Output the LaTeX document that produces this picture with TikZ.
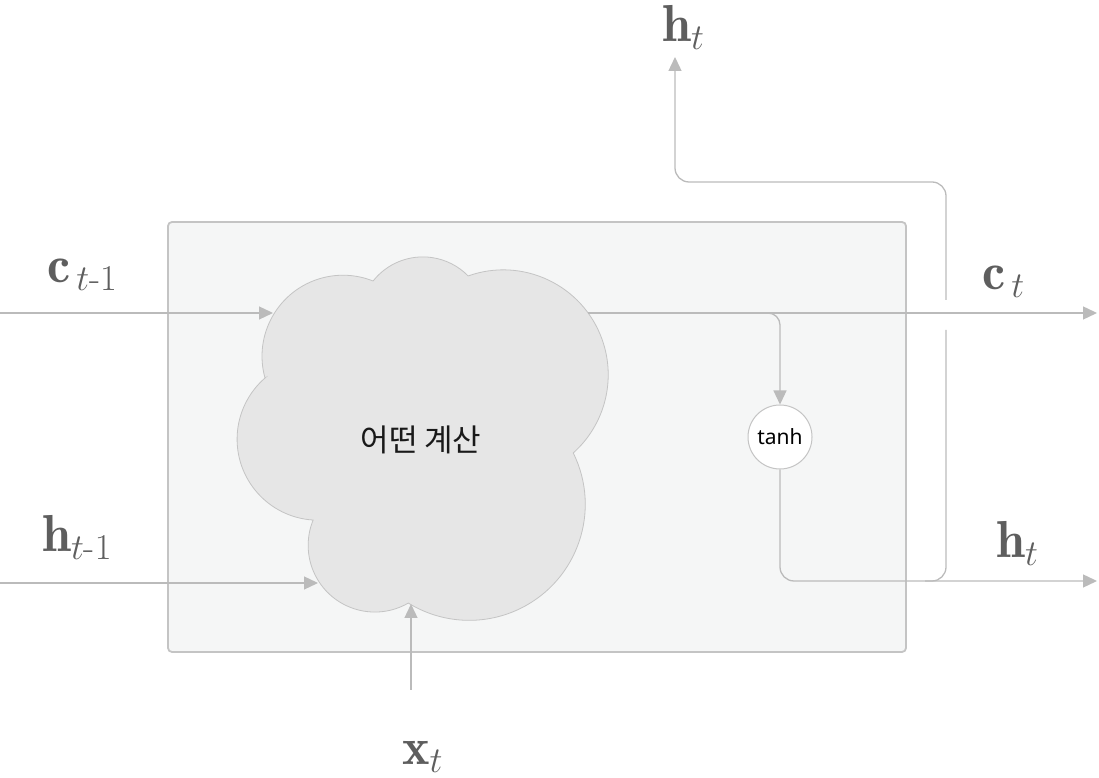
\documentclass[tikz,border=0pt]{standalone}
\usepackage{fix-cm}
\usepackage{amsmath}
\usepackage{fontspec}
\newfontfamily\krfont{Noto Sans CJK KR}
\newfontfamily\tanhfont{Noto Sans}
\usepackage{tikz}
\usetikzlibrary{arrows.meta, calc}

\definecolor{linegray}{HTML}{BBBBBB}
\definecolor{boxfill}{HTML}{F5F6F6}
\definecolor{boxline}{HTML}{C4C4C4}
\definecolor{cloudfill}{HTML}{E6E6E6}
\definecolor{labelgray}{HTML}{5E5E5E}

\begin{document}
\begin{tikzpicture}[x=1pt, y=1pt,
    wire/.style={draw=linegray, line width=1.3pt},
    arr/.style={wire, -{Triangle[length=14pt, width=13pt]}},
    lbl/.style={text=labelgray, font=\fontsize{52}{62}\selectfont, inner sep=0pt, anchor=base west},
    cellbox/.style={draw=boxline, fill=boxfill, line width=1.8pt, rounded corners=4pt,
                    minimum width=738pt, minimum height=430pt},
    act/.style={circle, draw=boxline, fill=white, line width=1pt, minimum size=64pt,
                inner sep=0pt, font=\tanhfont\fontsize{21}{24}\selectfont}]
    \useasboundingbox (0,0) rectangle (1099,778);

    % the cell
    \node[cellbox] (cell) at (537,341) {};

    % the cloud
    \draw[draw=boxline, fill=cloudfill, line width=0.8pt] (265,400)
        arc[start angle=195.6, end angle=68.2, radius=81]
        arc[start angle=141.7, end angle=44.4, radius=63.4]
        arc[start angle=109.6, end angle=-48.2, radius=104.9]
        arc[start angle=26.3, end angle=-121.7, radius=116]
        arc[start angle=-59.9, end angle=-202.3, radius=66.7]
        arc[start angle=266.5, end angle=130.9, radius=81] -- cycle;
    \node[font=\krfont\fontsize{31}{36}\selectfont, text=black!90] (calc) at (421,338) {어떤 계산};
    \node[act] (tanh) at (780,341) {tanh};

    \coordinate (c_in) at (0,465);
    \coordinate (c_hit) at (273,465);
    \coordinate (h_in) at (0,195);
    \coordinate (h_hit) at (318,195);
    \coordinate (x_in) at (411,88);
    \coordinate (x_hit) at (411,174);
    \coordinate (c_start) at (588,465);
    \coordinate (c_end) at (1097,465);
    \coordinate (split) at (748,465);
    \coordinate (h_end) at (1097,197);
    \coordinate (h_join) at (925,197);
    \coordinate (gap_lo) at (946,448);
    \coordinate (gap_hi) at (946,478);
    \coordinate (elbow) at (675,596);
    \coordinate (h_tip) at (675,721);

    % labels
    \node[lbl] (c_prev) at (47,495) {$\mathbf{c}_{\,t\text{-}1}$};
    \node[lbl] (h_prev) at (42,226) {$\mathbf{h}_{t\text{-}1}$};
    \node[lbl] (x_cur) at (402,13) {$\mathbf{x}_t$};
    \node[lbl] (h_up) at (662,736) {$\mathbf{h}_t$};
    \node[lbl] (c_next) at (982,488) {$\mathbf{c}_{\,t}$};
    \node[lbl] (h_next) at (996,220) {$\mathbf{h}_t$};

    % connectors
    \draw[arr] (c_in) -- (c_hit);
    \draw[arr] (h_in) -- (h_hit);
    \draw[arr] (x_in) -- (x_hit);
    \draw[arr, rounded corners=12pt] (split) -| (tanh.north);
    \draw[arr, rounded corners=14pt] (tanh.south) |- (h_end);
    \draw[wire, rounded corners=14pt] (h_join) -| (gap_lo);
    \draw[arr, rounded corners=14pt] (gap_hi) |- (elbow) -- (h_tip);
    \draw[arr] (c_start) -- (c_end);
\end{tikzpicture}
\end{document}
